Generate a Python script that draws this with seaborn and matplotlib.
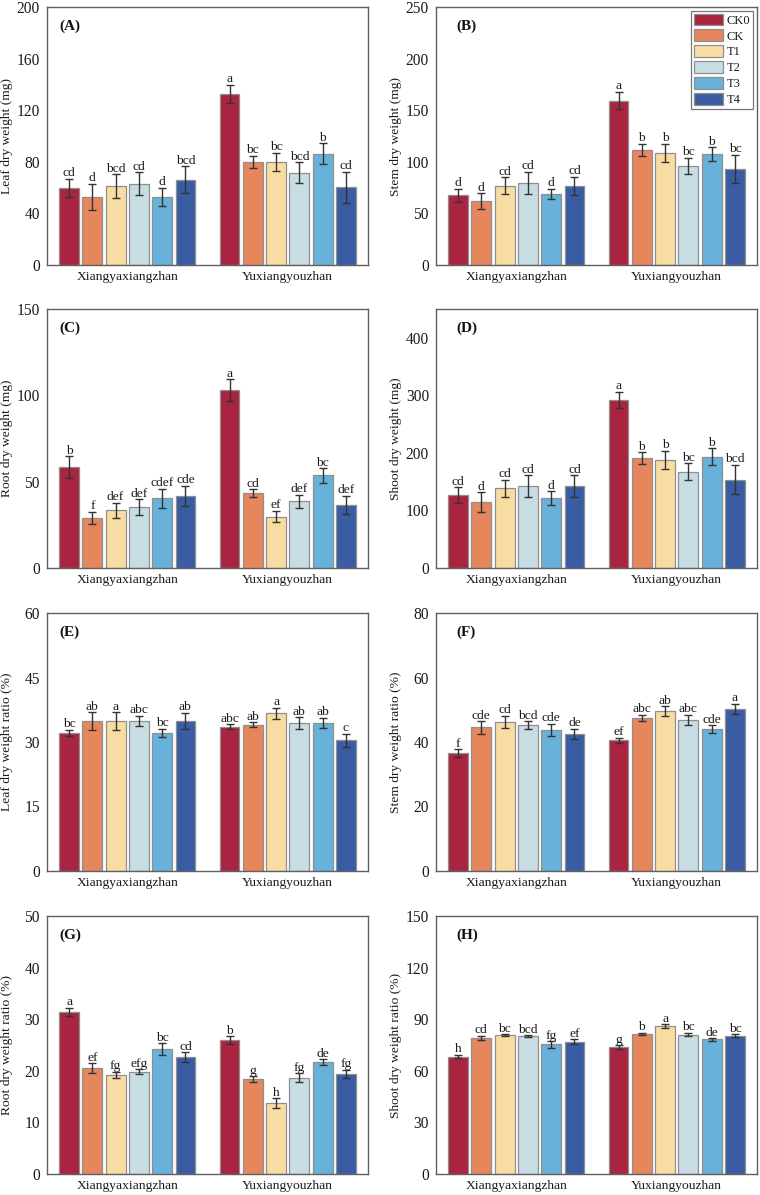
import matplotlib
matplotlib.use("Agg")
import matplotlib.pyplot as plt
from matplotlib.container import BarContainer
import seaborn as sns
import pandas as pd
import numpy as np

sns.set_theme(style="white")
plt.rcParams['font.family'] = ['Liberation Serif', 'DejaVu Serif']

cultivars = ["Xiangyaxiangzhan", "Yuxiangyouzhan"]
treatments = ["CK0", "CK", "T1", "T2", "T3", "T4"]
colors = ["#A8243F", "#E6865D", "#F8DDA2", "#C8DCE4", "#68B1DA", "#395CA3"]

# Panel A: leaf dry weight (mg)
leaf_mean = [[60, 52.8, 61.3, 63, 53, 66], [132.8, 80, 80, 71.6, 86.2, 60.2]]
leaf_err = [[7, 10, 9, 9, 7, 10.5], [7, 4.7, 7, 8, 8, 12]]
leaf_let = [["cd", "d", "bcd", "cd", "d", "bcd"], ["a", "bc", "bc", "bcd", "b", "cd"]]
# Panel B: stem dry weight (mg)
stem_mean = [[67.6, 62, 76.9, 79.8, 68.9, 76.6], [159.3, 111.6, 108.7, 96.2, 107.1, 93.3]]
stem_err = [[6.5, 7.7, 8, 10.6, 5, 8.7], [8.4, 5.8, 9, 7.7, 6.8, 13.5]]
stem_let = [["d", "d", "cd", "cd", "d", "cd"], ["a", "b", "b", "bc", "b", "bc"]]
# Panel C: root dry weight (mg)
root_mean = [[58.3, 29, 33.5, 35.2, 40.4, 41.8], [103, 43.4, 29.8, 38.7, 53.6, 36.4]]
root_err = [[6.4, 3.7, 4.3, 4.6, 5.6, 5.8], [6.4, 2.1, 3.3, 3.7, 4.1, 5.4]]
root_let = [["b", "f", "def", "def", "cdef", "cde"], ["a", "cd", "ef", "def", "bc", "def"]]
# Panel D: shoot dry weight (mg)
shoot_mean = [[126.7, 114.5, 138.4, 142.4, 121.5, 142.4], [291.9, 191.3, 188.4, 167.4, 193.6, 153.5]]
shoot_err = [[13.4, 17, 15, 19, 12, 18.6], [14.5, 10, 15.7, 14.5, 14.5, 25.6]]
shoot_let = [["cd", "d", "cd", "cd", "d", "cd"], ["a", "b", "b", "bc", "b", "bcd"]]
# Panel E: leaf dry weight ratio (%)
leafr_mean = [[32.1, 34.9, 34.9, 34.9, 32.1, 34.9], [33.6, 34.0, 36.7, 34.4, 34.4, 30.4]]
leafr_err = [[0.8, 2, 2, 1.2, 1, 1.9], [0.5, 0.6, 1.3, 1.4, 1.2, 1.5]]
leafr_let = [["bc", "ab", "a", "abc", "bc", "ab"], ["abc", "ab", "a", "ab", "ab", "c"]]
# Panel F: stem dry weight ratio (%)
stemr_mean = [[36.6, 44.5, 46.2, 45.2, 43.7, 42.5], [40.5, 47.5, 49.6, 46.9, 44.0, 50.3]]
stemr_err = [[1.1, 2, 2, 1.2, 1.9, 1.6], [0.8, 1, 1.5, 1.6, 1.2, 1.5]]
stemr_let = [["f", "cde", "cd", "bcd", "cde", "de"], ["ef", "abc", "ab", "abc", "cde", "a"]]
# Panel G: root dry weight ratio (%)
rootr_mean = [[31.4, 20.5, 19.2, 19.8, 24.2, 22.7], [25.9, 18.4, 13.7, 18.7, 21.7, 19.4]]
rootr_err = [[0.8, 1, 0.6, 0.5, 1.1, 0.9], [0.8, 0.5, 1, 0.8, 0.5, 0.8]]
rootr_let = [["a", "ef", "fg", "efg", "bc", "cd"], ["b", "g", "h", "fg", "de", "fg"]]
# Panel H: shoot dry weight ratio (%)
shootr_mean = [[68.3, 79.2, 80.7, 80.1, 75.3, 77.0], [73.7, 81.5, 85.9, 81.1, 78.2, 80.5]]
shootr_err = [[1, 1.2, 0.6, 0.5, 1.9, 1.2], [1.2, 0.6, 1.3, 1, 0.6, 0.8]]
shootr_let = [["h", "cd", "bc", "bcd", "fg", "ef"], ["g", "b", "a", "bc", "de", "bc"]]

panels = [
    ("(A)", "Leaf dry weight (mg)", leaf_mean, leaf_err, leaf_let, 200, [0, 40, 80, 120, 160, 200]),
    ("(B)", "Stem dry weight (mg)", stem_mean, stem_err, stem_let, 250, [0, 50, 100, 150, 200, 250]),
    ("(C)", "Root dry weight (mg)", root_mean, root_err, root_let, 150, [0, 50, 100, 150]),
    ("(D)", "Shoot dry weight (mg)", shoot_mean, shoot_err, shoot_let, 450, [0, 100, 200, 300, 400]),
    ("(E)", "Leaf dry weight ratio (%)", leafr_mean, leafr_err, leafr_let, 60, [0, 15, 30, 45, 60]),
    ("(F)", "Stem dry weight ratio (%)", stemr_mean, stemr_err, stemr_let, 80, [0, 20, 40, 60, 80]),
    ("(G)", "Root dry weight ratio (%)", rootr_mean, rootr_err, rootr_let, 50, [0, 10, 20, 30, 40, 50]),
    ("(H)", "Shoot dry weight ratio (%)", shootr_mean, shootr_err, shootr_let, 150, [0, 30, 60, 90, 120, 150]),
]

W, H = 760, 1195
fig = plt.figure(figsize=(W / 100, H / 100), dpi=100)
col_x = [47, 436]
row_y = [(7, 265), (309, 568), (613, 871), (916, 1174)]
ax_w = 321
spine_c = "#606060"
txt_c = "#1a1a1a"

for i, (tag, ylabel, means, errs, lets, ymax, ticks) in enumerate(panels):
    r, c = divmod(i, 2)
    top, bot = row_y[r]
    ax = fig.add_axes([col_x[c] / W, 1 - bot / H, ax_w / W, (bot - top) / H])
    rows = []
    for ci, cv in enumerate(cultivars):
        for ti, tr in enumerate(treatments):
            rows.append({"cultivar": cv, "treatment": tr, "value": means[ci][ti]})
    df = pd.DataFrame(rows)
    sns.barplot(data=df, x="cultivar", y="value", hue="treatment", order=cultivars,
                hue_order=treatments, palette=colors, width=0.87, gap=0.15,
                edgecolor="#8f8f8f", linewidth=0.9, errorbar=None, saturation=1,
                legend=(i == 1), ax=ax)
    bar_conts = [cc for cc in ax.containers if isinstance(cc, BarContainer)]
    for ti, cont in enumerate(bar_conts):
        bars = sorted(list(cont.patches), key=lambda p: p.get_x())
        for ci, p in enumerate(bars):
            xc = p.get_x() + p.get_width() / 2
            m = means[ci][ti]
            e = errs[ci][ti]
            ax.errorbar(xc, m, yerr=e, fmt="none", ecolor="#333333", elinewidth=1.0,
                        capsize=2.6, capthick=1.0, zorder=5)
            ax.annotate(lets[ci][ti], (xc, m + e), xytext=(0, 1.8),
                        textcoords="offset points", ha="center", va="baseline",
                        fontsize=9.7, color=txt_c)
    ax.set_xlim(-0.5, 1.5)
    ax.set_ylim(0, ymax)
    ax.set_yticks(ticks)
    ax.set_yticklabels([str(t) for t in ticks], fontsize=11.2, color=txt_c)
    ax.set_xticks([0, 1])
    ax.set_xticklabels(cultivars, fontsize=9.7, color=txt_c)
    ax.set_xlabel("")
    ax.set_ylabel(ylabel, fontsize=9.7, color=txt_c)
    ax.yaxis.set_label_coords(-0.107, 0.5)
    ax.tick_params(axis="y", direction="out", length=3, width=0.9, color=spine_c, pad=2)
    ax.tick_params(axis="x", length=0, pad=4)
    for s in ax.spines.values():
        s.set_visible(True)
        s.set_color(spine_c)
        s.set_linewidth(1.0)
    xoff = 0.04 if c == 0 else 0.065
    ax.text(xoff, 0.925, tag, transform=ax.transAxes, fontsize=11, fontweight="bold",
            ha="left", va="center", color="#111111")
    if i == 1:
        leg = ax.legend(loc="upper right", bbox_to_anchor=(1.0, 1.0), fontsize=9,
                        frameon=True, fancybox=False, framealpha=1, edgecolor="#777777",
                        handlelength=2.35, handleheight=1.07, labelspacing=0.22,
                        handletextpad=0.3, borderpad=0.22, borderaxespad=0.3, title=None)
        leg.get_frame().set_linewidth(0.9)
        for t in leg.get_texts():
            t.set_color(txt_c)

fig.savefig("out.png", dpi=100)
